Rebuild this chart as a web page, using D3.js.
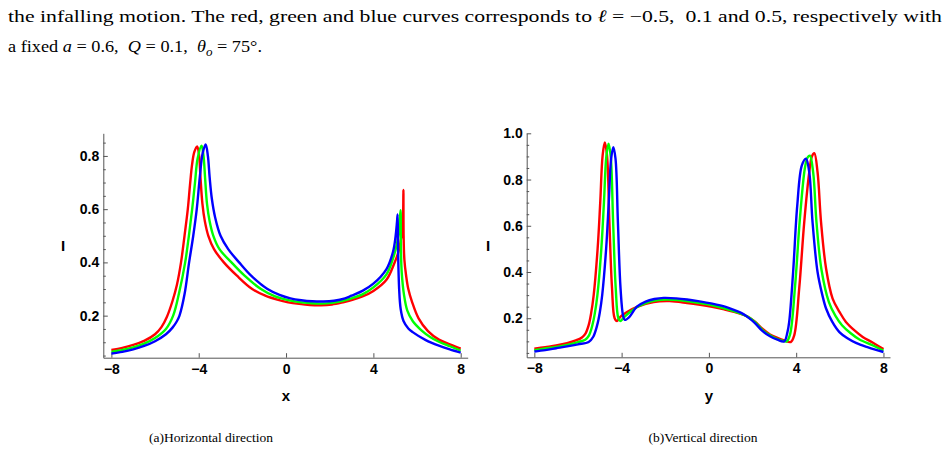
<!doctype html>
<html lang="en">
  <head>
    <meta charset="UTF-8" />
    <title>Intensity profiles</title>
    <script src="https://d3js.org/d3.v7.min.js"></script>
    <style>
      body {
        margin: 0;
        background: #fff;
      }
      svg {
        display: block;
      }
    </style>
  </head>
  <body>
    <script>
      // tick labels
      const xTicks = [-8, -4, 0, 4, 8];
      const hYTicks = [0.2, 0.4, 0.6, 0.8];
      const vYTicks = [0.2, 0.4, 0.6, 0.8, 1.0];
      const seriesNames = ["l = -0.5", "l = 0.1", "l = 0.5"];
      const seriesColors = ["#ff0000", "#00ff00", "#0000ff"];

      // (a) horizontal direction, [x, I]
      const hRed = [
        [-8, 0.071], [-7.5, 0.079], [-7, 0.09], [-6.5, 0.105], [-6, 0.13], [-5.7, 0.158],
        [-5.46, 0.195], [-5.2, 0.255], [-5.0, 0.315], [-4.81, 0.4], [-4.65, 0.5], [-4.5, 0.6],
        [-4.4, 0.69], [-4.3, 0.77], [-4.2, 0.815], [-4.07, 0.836], [-3.98, 0.8], [-3.92, 0.72],
        [-3.83, 0.62], [-3.72, 0.555], [-3.56, 0.5], [-3.3, 0.45], [-2.85, 0.4], [-2.25, 0.35],
        [-1.55, 0.3], [-0.95, 0.275], [-0.4, 0.26], [0.1, 0.25], [0.6, 0.244], [1.1, 0.24],
        [1.6, 0.239], [2.1, 0.242], [2.6, 0.25], [3.0, 0.258], [3.5, 0.272], [4.0, 0.293],
        [4.6, 0.335], [4.95, 0.395], [5.15, 0.44], [5.3, 0.51], [5.36, 0.58], [5.375, 0.672],
        [5.385, 0.5], [5.42, 0.41], [5.5, 0.35], [5.6, 0.3], [5.77, 0.252], [6.07, 0.19],
        [6.5, 0.142], [7.0, 0.11], [7.5, 0.092], [8.0, 0.076]
      ];
      const hGreen = [
        [-8, 0.064], [-7.5, 0.071], [-7, 0.081], [-6.5, 0.095], [-6, 0.116], [-5.5, 0.15],
        [-5.17, 0.2], [-4.9, 0.285], [-4.62, 0.4], [-4.45, 0.5], [-4.3, 0.6], [-4.17, 0.7],
        [-4.05, 0.79], [-3.87, 0.838], [-3.78, 0.8], [-3.71, 0.72], [-3.62, 0.62], [-3.5, 0.555],
        [-3.33, 0.5], [-3.05, 0.45], [-2.5, 0.4], [-1.9, 0.35], [-1.15, 0.3], [-0.5, 0.272],
        [0.1, 0.258], [0.6, 0.251], [1.1, 0.247], [1.6, 0.245], [2.1, 0.248], [2.6, 0.256],
        [3.0, 0.265], [3.5, 0.28], [4.0, 0.306], [4.6, 0.355], [4.9, 0.415], [5.08, 0.47],
        [5.18, 0.53], [5.245, 0.596], [5.26, 0.45], [5.3, 0.36], [5.4, 0.28], [5.55, 0.22],
        [5.8, 0.18], [6.2, 0.145], [6.6, 0.12], [7.0, 0.102], [7.5, 0.085], [8.0, 0.069]
      ];
      const hBlue = [
        [-8, 0.058], [-7.5, 0.064], [-7, 0.073], [-6.5, 0.086], [-6, 0.104], [-5.5, 0.13],
        [-5.2, 0.155], [-5.0, 0.179], [-4.88, 0.2], [-4.65, 0.28], [-4.44, 0.4], [-4.25, 0.5],
        [-4.09, 0.6], [-3.95, 0.72], [-3.82, 0.81], [-3.68, 0.843], [-3.58, 0.8], [-3.5, 0.72],
        [-3.4, 0.64], [-3.25, 0.57], [-3.0, 0.5], [-2.65, 0.45], [-2.15, 0.4], [-1.6, 0.35],
        [-0.85, 0.3], [-0.3, 0.278], [0.2, 0.265], [0.7, 0.258], [1.2, 0.254], [1.7, 0.253],
        [2.2, 0.256], [2.7, 0.265], [3.0, 0.275], [3.5, 0.293], [4.0, 0.32], [4.6, 0.375],
        [4.9, 0.44], [5.02, 0.5], [5.08, 0.55], [5.11, 0.58], [5.13, 0.45], [5.18, 0.3],
        [5.25, 0.225], [5.38, 0.18], [5.6, 0.152], [5.8, 0.138], [6.4, 0.108], [7.0, 0.087],
        [7.5, 0.073], [8.0, 0.061]
      ];

      // (b) vertical direction, [y, I]
      const vRed = [
        [-8, 0.068], [-7.5, 0.075], [-7, 0.082], [-6.5, 0.092], [-6.1, 0.104], [-5.82, 0.117],
        [-5.65, 0.135], [-5.51, 0.17], [-5.4, 0.22], [-5.28, 0.3], [-5.1, 0.5], [-4.98, 0.7],
        [-4.87, 0.905], [-4.77, 0.96], [-4.67, 0.905], [-4.56, 0.616], [-4.44, 0.33],
        [-4.32, 0.2], [-4.21, 0.188], [-4.06, 0.206], [-3.75, 0.227], [-3.29, 0.249],
        [-2.53, 0.27], [-1.8, 0.274], [-1.0, 0.266], [-0.4, 0.258], [0.15, 0.249], [0.7, 0.238],
        [1.2, 0.226], [1.75, 0.208], [2.1, 0.186], [2.45, 0.155], [2.8, 0.13], [3.14, 0.115],
        [3.45, 0.104], [3.75, 0.097], [3.91, 0.126], [4.14, 0.33], [4.37, 0.616], [4.6, 0.832],
        [4.72, 0.9], [4.83, 0.914], [4.98, 0.832], [5.14, 0.616], [5.37, 0.415], [5.67, 0.285],
        [6.0, 0.225], [6.28, 0.184], [6.7, 0.145], [7.05, 0.119], [7.5, 0.095], [8.0, 0.067]
      ];
      const vGreen = [
        [-8, 0.062], [-7.5, 0.069], [-7, 0.076], [-6.5, 0.085], [-6.0, 0.097], [-5.67, 0.107],
        [-5.5, 0.125], [-5.34, 0.17], [-5.23, 0.22], [-5.11, 0.3], [-4.93, 0.5], [-4.81, 0.7],
        [-4.7, 0.9], [-4.6, 0.955], [-4.5, 0.9], [-4.39, 0.616], [-4.27, 0.33], [-4.15, 0.2],
        [-4.06, 0.188], [-3.9, 0.203], [-3.6, 0.228], [-3.2, 0.253], [-2.6, 0.274], [-2.0, 0.281],
        [-1.4, 0.279], [-0.8, 0.271], [-0.2, 0.262], [0.15, 0.256], [0.7, 0.243], [1.2, 0.229],
        [1.75, 0.208], [2.1, 0.184], [2.45, 0.15], [2.8, 0.126], [3.14, 0.11], [3.4, 0.102],
        [3.57, 0.1], [3.72, 0.13], [3.95, 0.34], [4.17, 0.63], [4.4, 0.85], [4.52, 0.895],
        [4.63, 0.903], [4.78, 0.83], [4.93, 0.616], [5.16, 0.41], [5.5, 0.27], [5.8, 0.21],
        [6.1, 0.17], [6.5, 0.135], [6.9, 0.108], [7.5, 0.083], [8.0, 0.06]
      ];
      const vBlue = [
        [-8, 0.056], [-7.5, 0.062], [-7, 0.07], [-6.5, 0.078], [-6.0, 0.087], [-5.51, 0.097],
        [-5.3, 0.12], [-5.12, 0.17], [-5.0, 0.225], [-4.89, 0.3], [-4.71, 0.5], [-4.59, 0.7],
        [-4.48, 0.89], [-4.38, 0.94], [-4.28, 0.89], [-4.17, 0.616], [-4.05, 0.33], [-3.93, 0.21],
        [-3.85, 0.193], [-3.65, 0.205], [-3.3, 0.25], [-2.9, 0.272], [-2.5, 0.283], [-2.07, 0.288],
        [-1.5, 0.286], [-1.0, 0.281], [-0.5, 0.274], [0.15, 0.263], [0.77, 0.249], [1.2, 0.234],
        [1.5, 0.222], [1.75, 0.207], [2.1, 0.18], [2.45, 0.145], [2.8, 0.122], [3.14, 0.107],
        [3.45, 0.1], [3.6, 0.14], [3.68, 0.184], [3.86, 0.4], [4.05, 0.688], [4.26, 0.861],
        [4.45, 0.89], [4.6, 0.832], [4.75, 0.616], [4.98, 0.4], [5.2, 0.3], [5.37, 0.242],
        [5.65, 0.185], [5.98, 0.14], [6.35, 0.113], [6.74, 0.093], [7.3, 0.074], [8.0, 0.054]
      ];

      const width = 944;
      const height = 452;

      const svg = d3.select("body").append("svg").attr("width", width).attr("height", height);

      // paragraph text above the figure
      const para = svg
        .append("g")
        .style("font-family", '"Liberation Serif", "Times New Roman", serif')
        .style("font-size", "17.5px")
        .attr("fill", "#000");

      const line1 = para
        .append("text")
        .attr("x", 8)
        .attr("y", 22)
        .attr("textLength", 934)
        .attr("lengthAdjust", "spacingAndGlyphs");
      line1.append("tspan").text("the infalling motion. The red, green and blue curves corresponds to ");
      line1.append("tspan").style("font-style", "italic").text("ℓ");
      line1.append("tspan").text(" = −0.5,\u00a0 0.1 and 0.5, respectively with");

      const line2 = para
        .append("text")
        .attr("x", 8)
        .attr("y", 52)
        .attr("textLength", 254)
        .attr("lengthAdjust", "spacingAndGlyphs");
      line2.append("tspan").text("a fixed ");
      line2.append("tspan").style("font-style", "italic").text("a");
      line2.append("tspan").text(" = 0.6,\u00a0 ");
      line2.append("tspan").style("font-style", "italic").text("Q");
      line2.append("tspan").text(" = 0.1,\u00a0 ");
      line2.append("tspan").style("font-style", "italic").text("θ");
      line2.append("tspan").style("font-style", "italic").style("font-size", "12.5px").attr("dy", 4).text("o");
      line2.append("tspan").attr("dy", -4).text(" = 75°.");

      function styleTicks(a) {
        a.selectAll("line,path").attr("stroke", "#555");
        a.selectAll("text")
          .attr("fill", "#000")
          .style("font-family", '"Liberation Sans", Arial, sans-serif')
          .style("font-weight", "bold")
          .style("font-size", "14px");
      }

      function drawPanel(p) {
        const x = d3.scaleLinear().domain(p.xDomain).range([p.left, p.right]);
        const y = d3.scaleLinear().domain(p.yDomain).range([p.bottom, p.top]);
        const g = svg.append("g");

        // minor y ticks every 0.05
        const minor = y.ticks(20).filter((v) => !p.yTicks.some((t) => Math.abs(t - v) < 1e-9));
        g.append("g")
          .attr("transform", `translate(${p.left},0)`)
          .call(d3.axisLeft(y).tickValues(minor).tickSize(-2.5).tickFormat(""))
          .call((a) => a.select(".domain").remove())
          .call(styleTicks);

        g.append("g")
          .attr("transform", `translate(${p.left},0)`)
          .call(
            d3.axisLeft(y).tickValues(p.yTicks).tickSize(-4.5).tickSizeOuter(0).tickPadding(4).tickFormat(d3.format(".1f"))
          )
          .call(styleTicks);

        g.append("g")
          .attr("transform", `translate(0,${p.bottom})`)
          .call(d3.axisBottom(x).tickValues(xTicks).tickSize(-4.5).tickSizeOuter(0).tickPadding(6).tickFormat(d3.format("d")))
          .call(styleTicks);

        const line = d3
          .line()
          .x((d) => x(d[0]))
          .y((d) => y(d[1]))
          .curve(d3.curveCatmullRom.alpha(0.5));

        g.append("g")
          .selectAll("path")
          .data(p.series)
          .join("path")
          .attr("d", (d) => line(d))
          .attr("fill", "none")
          .attr("stroke", (d, i) => seriesColors[i])
          .attr("stroke-width", 2.4)
          .attr("stroke-linejoin", "round");

        const labels = g
          .append("g")
          .style("font-family", '"Liberation Sans", Arial, sans-serif')
          .style("font-weight", "bold")
          .style("font-size", "15px")
          .attr("text-anchor", "middle");
        labels.append("text").attr("x", p.yLabelX).attr("y", 251).text("I");
        labels.append("text").attr("x", x(0)).attr("y", 401).text(p.xLabel);

        svg
          .append("text")
          .attr("x", p.captionX)
          .attr("y", 442)
          .attr("text-anchor", "middle")
          .style("font-family", '"Liberation Serif", "Times New Roman", serif')
          .style("font-size", "13.5px")
          .text(p.caption);
      }

      drawPanel({
        xDomain: [-8.37, 8.32],
        yDomain: [0.042, 0.885],
        left: 103.3,
        right: 467.7,
        top: 133.3,
        bottom: 357.7,
        yTicks: hYTicks,
        series: [hRed, hGreen, hBlue],
        xLabel: "x",
        yLabelX: 63,
        caption: "(a)Horizontal direction",
        captionX: 211
      });

      drawPanel({
        xDomain: [-8.35, 8.3],
        yDomain: [0.031, 1.0],
        left: 526.7,
        right: 890,
        top: 133.3,
        bottom: 357.3,
        yTicks: vYTicks,
        series: [vRed, vGreen, vBlue],
        xLabel: "y",
        yLabelX: 488,
        caption: "(b)Vertical direction",
        captionX: 703
      });
    </script>
  </body>
</html>
